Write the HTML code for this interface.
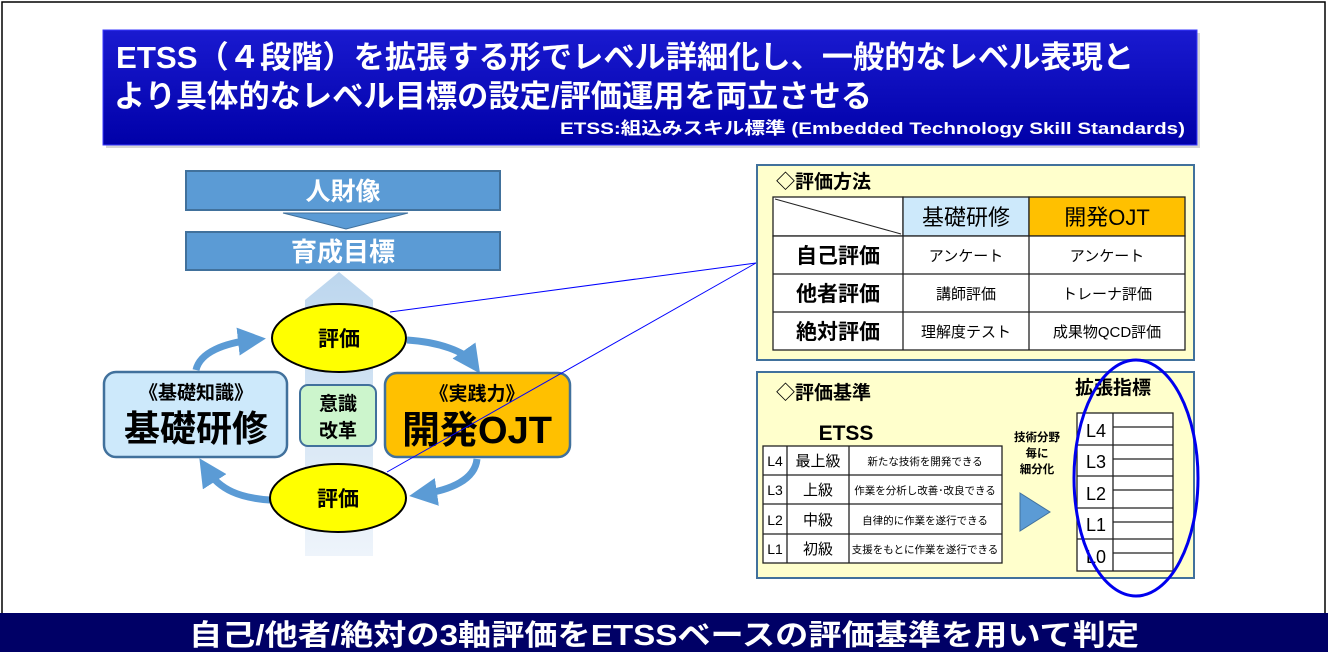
<!DOCTYPE html>
<html><head><meta charset="utf-8"><style>
html,body{margin:0;padding:0;background:#fff}
svg{display:block}
text{font-family:"Liberation Sans","Noto Sans CJK JP",sans-serif}
</style></head><body>
<svg width="1328" height="652" viewBox="0 0 1328 652" xmlns="http://www.w3.org/2000/svg">
<defs>
<linearGradient id="bn" x1="0" y1="0" x2="0" y2="1"><stop offset="0" stop-color="#1a1ad0"/><stop offset="1" stop-color="#0000a8"/></linearGradient>
<linearGradient id="va" x1="0" y1="0" x2="0" y2="1"><stop offset="0" stop-color="#bcd6ee"/><stop offset="1" stop-color="#eef4fb"/></linearGradient>
<marker id="ah" markerWidth="4" markerHeight="4" refX="2" refY="2" orient="auto" markerUnits="strokeWidth"><path d="M0,0 L4,2 L0,4 Z" fill="#5b9bd5"/></marker>
</defs>
<rect x="2" y="2" width="1323" height="648" fill="#fff" stroke="#000" stroke-width="1.5"/>
<!-- banner -->
<rect x="106" y="33" width="1094" height="115" fill="#888" opacity="0.35"/>
<rect x="103" y="30" width="1094" height="115" fill="url(#bn)" stroke="#3a3aff" stroke-width="1"/>
<text x="116" y="68" fill="#fff" font-size="31" font-weight="bold" textLength="1018" lengthAdjust="spacingAndGlyphs">ETSS（４段階）を拡張する形でレベル詳細化し、一般的なレベル表現と</text>
<text x="114" y="107" fill="#fff" font-size="31" font-weight="bold" textLength="758" lengthAdjust="spacingAndGlyphs">より具体的なレベル目標の設定/評価運用を両立させる</text>
<text x="560" y="134" fill="#fff" font-size="17" font-weight="bold" textLength="625" lengthAdjust="spacingAndGlyphs">ETSS:組込みスキル標準 (Embedded Technology Skill Standards)</text>
<!-- left diagram -->
<polygon points="305,556 305,300 339,272 373,300 373,556" fill="url(#va)"/>
<rect x="186" y="171" width="314" height="39" fill="#5b9bd5" stroke="#41719c" stroke-width="2"/>
<text x="343" y="200" fill="#fff" font-size="25" font-weight="bold" text-anchor="middle">人財像</text>
<polygon points="283,213 408,213 346,229" fill="#5b9bd5" stroke="#41719c" stroke-width="1"/>
<rect x="186" y="232" width="314" height="38" fill="#5b9bd5" stroke="#41719c" stroke-width="2"/>
<text x="343" y="261" fill="#fff" font-size="26" font-weight="bold" text-anchor="middle">育成目標</text>
<!-- arcs -->
<g fill="none" stroke="#5b9bd5" stroke-width="7">
<path d="M196,370 C200,352 225,343 252,340" marker-end="url(#ah)"/>
<path d="M407,340 C440,342 465,352 472,362" marker-end="url(#ah)"/>
<path d="M477,459 C475,480 450,490 423,494" marker-end="url(#ah)"/>
<path d="M270,500 C240,498 220,490 207,470" marker-end="url(#ah)"/>
</g>
<rect x="104" y="372" width="183" height="85" rx="12" fill="#cde9fb" stroke="#41719c" stroke-width="2.5"/>
<text x="196" y="399" font-size="19" font-weight="bold" text-anchor="middle">《基礎知識》</text>
<text x="196" y="441" font-size="36" font-weight="bold" text-anchor="middle">基礎研修</text>
<rect x="300" y="385" width="76" height="61" rx="8" fill="#ccf5cc" stroke="#41719c" stroke-width="2"/>
<text x="338" y="410" font-size="19" font-weight="bold" text-anchor="middle">意識</text>
<text x="338" y="437" font-size="19" font-weight="bold" text-anchor="middle">改革</text>
<rect x="385" y="373" width="185" height="84" rx="12" fill="#ffc000" stroke="#41719c" stroke-width="2.5"/>
<text x="477" y="400" font-size="19" font-weight="bold" text-anchor="middle">《実践力》</text>
<text x="477" y="443" font-size="38" font-weight="bold" text-anchor="middle">開発OJT</text>
<ellipse cx="339" cy="338" rx="67" ry="34" fill="#ffff00" stroke="#000" stroke-width="2"/>
<text x="339" y="346" font-size="21" font-weight="bold" text-anchor="middle">評価</text>
<ellipse cx="338" cy="498" rx="68" ry="34" fill="#ffff00" stroke="#000" stroke-width="2"/>
<text x="338" y="506" font-size="21" font-weight="bold" text-anchor="middle">評価</text>
<g stroke="#0000ff" stroke-width="1"><line x1="390" y1="312" x2="756" y2="263"/><line x1="387" y1="472" x2="756" y2="263"/></g>
<!-- panel 1 -->
<rect x="757" y="165" width="437" height="195" fill="#ffffcc" stroke="#41719c" stroke-width="2"/>
<text x="776" y="188" font-size="19" font-weight="bold">◇評価方法</text>
<g stroke="#222" stroke-width="1.3">
<rect x="773" y="197" width="130" height="39" fill="#fff"/>
<rect x="903" y="197" width="126" height="39" fill="#cde9fb"/>
<rect x="1029" y="197" width="156" height="39" fill="#ffc000"/>
<rect x="773" y="236" width="412" height="114" fill="#fff"/>
<line x1="773" y1="274" x2="1185" y2="274"/><line x1="773" y1="312" x2="1185" y2="312"/>
<line x1="903" y1="236" x2="903" y2="350"/><line x1="1029" y1="236" x2="1029" y2="350"/>
<line x1="775" y1="199" x2="901" y2="234" stroke-width="1"/>
</g>
<text x="966" y="225" font-size="22" text-anchor="middle">基礎研修</text>
<text x="1107" y="225" font-size="22" text-anchor="middle">開発OJT</text>
<text x="838" y="263" font-size="21" font-weight="bold" text-anchor="middle">自己評価</text>
<text x="838" y="301" font-size="21" font-weight="bold" text-anchor="middle">他者評価</text>
<text x="838" y="339" font-size="21" font-weight="bold" text-anchor="middle">絶対評価</text>
<g font-size="15" text-anchor="middle">
<text x="966" y="261">アンケート</text><text x="1107" y="261">アンケート</text>
<text x="966" y="299">講師評価</text><text x="1107" y="299">トレーナ評価</text>
<text x="966" y="337">理解度テスト</text><text x="1107" y="337">成果物QCD評価</text>
</g>
<!-- panel 2 -->
<rect x="757" y="372" width="437" height="206" fill="#ffffcc" stroke="#41719c" stroke-width="2"/>
<text x="776" y="399" font-size="19" font-weight="bold">◇評価基準</text>
<text x="1075" y="394" font-size="19" font-weight="bold">拡張指標</text>
<text x="846" y="440" font-size="21" font-weight="bold" text-anchor="middle">ETSS</text>
<g stroke="#222" stroke-width="1.3" fill="#fff">
<rect x="763" y="446" width="239" height="117"/>
<line x1="763" y1="475" x2="1002" y2="475"/><line x1="763" y1="504" x2="1002" y2="504"/><line x1="763" y1="534" x2="1002" y2="534"/>
<line x1="787" y1="446" x2="787" y2="563"/><line x1="849" y1="446" x2="849" y2="563"/>
</g>
<g font-size="14" text-anchor="middle">
<text x="775" y="466">L4</text><text x="775" y="495">L3</text><text x="775" y="525">L2</text><text x="775" y="554">L1</text>
<text x="818" y="466" font-size="15">最上級</text><text x="818" y="495" font-size="15">上級</text><text x="818" y="525" font-size="15">中級</text><text x="818" y="554" font-size="15">初級</text>
</g>
<g font-size="10.5" text-anchor="middle">
<text x="925" y="465">新たな技術を開発できる</text>
<text x="925" y="494">作業を分析し改善･改良できる</text>
<text x="925" y="524">自律的に作業を遂行できる</text>
<text x="925" y="553">支援をもとに作業を遂行できる</text>
</g>
<g font-size="11.5" font-weight="bold" text-anchor="middle">
<text x="1037" y="441">技術分野</text><text x="1037" y="457">毎に</text><text x="1037" y="473">細分化</text>
</g>
<polygon points="1020,493 1050,512 1020,531" fill="#5b9bd5" stroke="#41719c" stroke-width="1"/>
<g stroke="#222" stroke-width="1.3" fill="#fff">
<rect x="1077" y="413" width="96" height="158"/>
<line x1="1077" y1="445" x2="1173" y2="445"/><line x1="1077" y1="476" x2="1173" y2="476"/><line x1="1077" y1="508" x2="1173" y2="508"/><line x1="1077" y1="539" x2="1173" y2="539"/>
<line x1="1113" y1="413" x2="1113" y2="571"/>
<line x1="1113" y1="427" x2="1173" y2="427"/><line x1="1113" y1="459" x2="1173" y2="459"/><line x1="1113" y1="490" x2="1173" y2="490"/><line x1="1113" y1="522" x2="1173" y2="522"/><line x1="1113" y1="553" x2="1173" y2="553"/>
</g>
<g font-size="18" text-anchor="middle">
<text x="1096" y="437">L4</text><text x="1096" y="468">L3</text><text x="1096" y="500">L2</text><text x="1096" y="531">L1</text><text x="1096" y="563">L0</text>
</g>
<ellipse cx="1136" cy="478" rx="62" ry="118" fill="none" stroke="#0000ee" stroke-width="3"/>
<!-- bottom bar -->
<rect x="0" y="613" width="1328" height="39" fill="#000066"/>
<text x="664" y="645" fill="#fff" font-size="29" font-weight="bold" text-anchor="middle" textLength="950" lengthAdjust="spacingAndGlyphs">自己/他者/絶対の3軸評価をETSSベースの評価基準を用いて判定</text>
</svg>
</body></html>
